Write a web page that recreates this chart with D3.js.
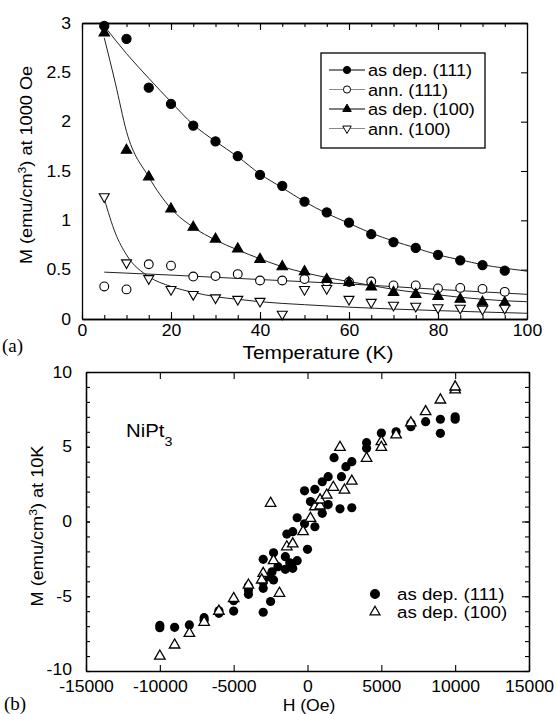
<!DOCTYPE html>
<html>
<head>
<meta charset="utf-8">
<script src="https://cdn.jsdelivr.net/npm/d3@7"></script>
<style>
body { margin: 0; background: #fff; }
svg { display: block; font-family: "Liberation Sans", Arial, sans-serif; }
</style>
</head>
<body>
<svg id="chart" width="557" height="714"></svg>
<script>
// ---- panel (a): M at 1000 Oe vs temperature ----
var temps = [5, 10, 15, 20, 25, 30, 35, 40, 45, 50, 55, 60, 65, 70, 75, 80, 85, 90, 95];
var asDep111 = [2.97, 2.84, 2.345, 2.18, 1.96, 1.80, 1.65, 1.46, 1.35, 1.19, 1.08, 0.976, 0.86, 0.78, 0.72, 0.65, 0.595, 0.547, 0.49];
var ann111 = [0.33, 0.30, 0.555, 0.54, 0.43, 0.435, 0.455, 0.39, 0.39, 0.405, 0.38, 0.375, 0.38, 0.34, 0.34, 0.31, 0.315, 0.305, 0.275];
var asDep100 = [2.90, 1.71, 1.44, 1.115, 0.93, 0.81, 0.71, 0.605, 0.53, 0.48, 0.40, 0.37, 0.325, 0.27, 0.25, 0.23, 0.20, 0.17, 0.165];
var ann100 = [1.24, 0.57, 0.41, 0.30, 0.25, 0.215, 0.20, 0.18, 0.05, 0.30, 0.31, 0.20, 0.17, 0.14, 0.13, 0.115, 0.11, 0.10, 0.11];

// fitted curves as [T, M]
var fitAsDep111 = [[5, 2.97], [10, 2.69], [15, 2.44], [20, 2.20], [25, 1.97], [30, 1.80], [35, 1.645], [40, 1.47], [45, 1.33], [50, 1.19], [55, 1.07], [60, 0.97], [65, 0.87], [70, 0.79], [75, 0.72], [80, 0.65], [85, 0.60], [90, 0.55], [95, 0.515], [100, 0.485]];
var fitAnn111 = [[5, 0.475], [20, 0.445], [40, 0.40], [60, 0.355], [80, 0.30], [100, 0.25]];
var fitAsDep100 = [[5, 2.85], [7.5, 2.39], [10, 1.90], [15, 1.44], [20, 1.12], [25, 0.93], [30, 0.80], [35, 0.70], [40, 0.61], [45, 0.53], [50, 0.47], [55, 0.42], [60, 0.38], [65, 0.34], [70, 0.30], [75, 0.27], [80, 0.245], [85, 0.22], [90, 0.20], [95, 0.185], [100, 0.175]];
var fitAnn100 = [[5, 1.22], [7.5, 0.87], [10, 0.65], [15, 0.43], [20, 0.33], [25, 0.27], [30, 0.226], [35, 0.20], [40, 0.175], [50, 0.145], [60, 0.12], [80, 0.085], [100, 0.058]];

var legendA = ["as dep. (111)", "ann. (111)", "as dep. (100)", "ann. (100)"];
var tTicks = [0, 20, 40, 60, 80, 100];
var mTicksA = [0, 0.5, 1, 1.5, 2, 2.5, 3];

// ---- panel (b): M at 10 K vs field, [H, M] ----
var loop111 = [[-10000, -6.95], [-10000, -7.1], [-9000, -7.08], [-8000, -6.92], [-7000, -6.43], [-7000, -6.6], [-6000, -5.97], [-6000, -6.14], [-5000, -5.99], [-5000, -5.3], [-4000, -4.87], [-4000, -4.58], [-4000, -4.31], [-3000, -4.47], [-3000, -4.07], [-3000, -6.07], [-3000, -2.53], [-2500, -5.35], [-2600, -3.69], [-2300, -3.91], [-2400, -3.36], [-2300, -2.09], [-2000, -3.02], [-1500, -2.35], [-1500, -3.2], [-1200, -2.76], [-1000, -3.13], [-700, -2.62], [-1400, -0.84], [-1000, -0.68], [-700, 0.25], [-200, -0.15], [0, -1.86], [500, -0.35], [-200, 2.05], [200, 1.33], [500, 2.15], [1000, 2.66], [1000, 0.55], [1400, 3.0], [1400, 1.13], [1800, 4.27], [2200, 0.85], [2300, 3.0], [2600, 3.67], [3000, 4.0], [3000, 0.92], [4000, 5.27], [4000, 4.9], [5000, 5.92], [6000, 6.0], [7000, 6.57], [7000, 6.34], [8000, 6.68], [9000, 6.84], [9000, 5.9], [10000, 7.0], [10000, 6.84]];
var loop100 = [[-10000, -9.0], [-9000, -8.26], [-8000, -7.48], [-7000, -6.74], [-6000, -6.0], [-5000, -5.15], [-4000, -4.25], [-3000, -3.47], [-3100, -3.91], [-2300, -2.62], [-1900, -4.8], [-1400, -1.69], [-1000, -1.5], [-300, -0.68], [200, 0.21], [500, 0.99], [850, 1.04], [850, 1.44], [1300, 1.77], [1750, 2.29], [2500, 2.1], [3000, 2.7], [2200, 4.96], [-2500, 1.22], [4000, 4.23], [5000, 5.34], [5000, 4.96], [6000, 5.79], [7000, 6.6], [8000, 7.35], [9000, 8.13], [10000, 8.8], [10000, 9.0]];
var legendB = ["as dep. (111)", "as dep. (100)"];
var hTicks = [-15000, -10000, -5000, 0, 5000, 10000, 15000];
var mTicksB = [-10, -5, 0, 5, 10];

var SX = 1.1; // the printed type is a little wide
var svg = d3.select("#chart");

function label(x, y, str, size, anchor) {
  return svg.append("text")
    .attr("transform", "translate(" + x + "," + y + ") scale(" + SX + ",1)")
    .attr("text-anchor", anchor || "start")
    .style("font-size", size + "px")
    .text(str);
}

function styleAxis(g, pad) {
  g.attr("font-family", null).attr("font-size", null);
  g.select(".domain").attr("stroke", "#000").attr("stroke-width", 1.3);
  g.selectAll(".tick line").attr("stroke", "#000").attr("stroke-width", 1.1);
  g.selectAll(".tick text")
    .style("font-size", "16px")
    .attr("fill", "#000")
    .attr("transform", "scale(" + SX + ",1)");
  if (pad) g.selectAll(".tick text").attr("x", -pad / SX);
}

// r: radius for circles, side length for triangles
function marker(type, r) {
  return d3.symbol().type(type).size(type === d3.symbolCircle ? Math.PI * r * r : 0.433 * r * r);
}

// ---------- panel (a) ----------
var xa = d3.scaleLinear().domain([0, 100]).range([82, 527]);
var ya = d3.scaleLinear().domain([0, 3]).range([319, 23]);
var tMinor = d3.range(0, 101, 5);

svg.append("g").attr("transform", "translate(0,319)")
  .call(d3.axisBottom(xa).tickValues(tMinor).tickSize(-4).tickSizeOuter(0).tickFormat(""))
  .call(styleAxis);
svg.append("g").attr("transform", "translate(0,319)")
  .call(d3.axisBottom(xa).tickValues(tTicks).tickSize(-7).tickSizeOuter(0).tickPadding(6).tickFormat(String))
  .call(styleAxis);
svg.append("g").attr("transform", "translate(0,23)")
  .call(d3.axisTop(xa).tickValues(tMinor).tickSize(-4).tickSizeOuter(0).tickFormat(""))
  .call(styleAxis);
svg.append("g").attr("transform", "translate(0,23)")
  .call(d3.axisTop(xa).tickValues(tTicks).tickSize(-7).tickSizeOuter(0).tickFormat(""))
  .call(styleAxis);
svg.append("g").attr("transform", "translate(82,0)")
  .call(d3.axisLeft(ya).tickValues(mTicksA).tickSize(0).tickSizeOuter(0).tickPadding(11).tickFormat(d3.format("~g")))
  .call(function(g) { styleAxis(g, 11); });
svg.append("g").attr("transform", "translate(527,0)")
  .call(d3.axisRight(ya).tickValues(mTicksA).tickSize(-6).tickSizeOuter(0).tickFormat(""))
  .call(styleAxis);

var lineA = d3.line().x(function(d) { return xa(d[0]); }).y(function(d) { return ya(d[1]); }).curve(d3.curveMonotoneX);
[fitAsDep111, fitAnn111, fitAsDep100, fitAnn100].forEach(function(f) {
  svg.append("path").attr("d", lineA(f)).attr("fill", "none").attr("stroke", "#222").attr("stroke-width", 1);
});

var seriesA = [
  { vals: asDep111, type: d3.symbolCircle, r: 4.6, fill: "#000", rot: 0 },
  { vals: ann111, type: d3.symbolCircle, r: 4.4, fill: "#fff", rot: 0 },
  { vals: asDep100, type: d3.symbolTriangle, r: 10.5, fill: "#000", rot: 0 },
  { vals: ann100, type: d3.symbolTriangle, r: 10, fill: "#fff", rot: 180 }
];
seriesA.forEach(function(s) {
  svg.append("g").selectAll("path").data(s.vals).enter().append("path")
    .attr("d", marker(s.type, s.r)())
    .attr("transform", function(d, i) { return "translate(" + xa(temps[i]) + "," + ya(d) + ") rotate(" + s.rot + ")"; })
    .attr("fill", s.fill).attr("stroke", "#000").attr("stroke-width", 1.1);
});

// legend (a)
svg.append("rect").attr("x", 321).attr("y", 53).attr("width", 164).attr("height", 95)
  .attr("fill", "#fff").attr("stroke", "#000").attr("stroke-width", 1.3);
var legRows = [70, 89.5, 109, 128.5];
legendA.forEach(function(name, i) {
  var s = seriesA[i];
  var y = legRows[i];
  svg.append("line").attr("x1", 329).attr("x2", 365).attr("y1", y).attr("y2", y)
    .attr("stroke", s.fill === "#fff" ? "#888" : "#000").attr("stroke-width", 1);
  svg.append("path").attr("d", marker(s.type, s.type === d3.symbolCircle ? 3.6 : 8.5)())
    .attr("transform", "translate(347," + y + ") rotate(" + s.rot + ")")
    .attr("fill", s.fill).attr("stroke", "#000").attr("stroke-width", 1);
  label(368, y + 6, name, 16.5);
});

// titles (a)
label(318, 359, "Temperature (K)", 19, "middle");
var ta = svg.append("text")
  .attr("transform", "translate(32,165) rotate(-90) scale(" + SX + ",1)")
  .attr("text-anchor", "middle").style("font-size", "16.5px");
ta.append("tspan").text("M (emu/cm");
ta.append("tspan").attr("dy", -6).style("font-size", "11px").text("3");
ta.append("tspan").attr("dy", 6).text(") at 1000 Oe");
svg.append("text").attr("x", 2).attr("y", 352)
  .style("font-family", "'Liberation Serif', serif").style("font-size", "19px").text("(a)");

// ---------- panel (b) ----------
var xb = d3.scaleLinear().domain([-15000, 15000]).range([86, 529]);
var yb = d3.scaleLinear().domain([-10, 10]).range([671, 372]);
var mMinor = d3.range(-10, 11, 1);

svg.append("g").attr("transform", "translate(0,671)")
  .call(d3.axisBottom(xb).tickValues(hTicks).tickSize(-6).tickSizeOuter(0).tickPadding(10).tickFormat(String))
  .call(styleAxis);
svg.append("g").attr("transform", "translate(0,372)")
  .call(d3.axisTop(xb).tickValues(hTicks).tickSize(-7).tickSizeOuter(0).tickFormat(""))
  .call(styleAxis);
svg.append("g").attr("transform", "translate(86,0)")
  .call(d3.axisLeft(yb).tickValues(mMinor).tickSize(-4).tickSizeOuter(0).tickFormat(""))
  .call(styleAxis);
svg.append("g").attr("transform", "translate(86,0)")
  .call(d3.axisLeft(yb).tickValues(mTicksB).tickSize(-4).tickSizeOuter(0).tickPadding(14).tickFormat(String))
  .call(function(g) { styleAxis(g, 14); })
  .call(function(g) {
    // lift the bottom label clear of the -15000 below it
    g.selectAll(".tick text").filter(function(d) { return d === -10; }).attr("y", -2);
  });
svg.append("g").attr("transform", "translate(529,0)")
  .call(d3.axisRight(yb).tickValues(mMinor).tickSize(-4).tickSizeOuter(0).tickFormat(""))
  .call(styleAxis);
svg.append("g").attr("transform", "translate(529,0)")
  .call(d3.axisRight(yb).tickValues(mTicksB).tickSize(-7).tickSizeOuter(0).tickFormat(""))
  .call(styleAxis);

svg.append("g").selectAll("path").data(loop111).enter().append("path")
  .attr("d", marker(d3.symbolCircle, 4.6)())
  .attr("transform", function(d) { return "translate(" + xb(d[0]) + "," + yb(d[1]) + ")"; })
  .attr("fill", "#000");
svg.append("g").selectAll("path").data(loop100).enter().append("path")
  .attr("d", marker(d3.symbolTriangle, 10.5)())
  .attr("transform", function(d) { return "translate(" + xb(d[0]) + "," + yb(d[1]) + ")"; })
  .attr("fill", "#fff").attr("stroke", "#000").attr("stroke-width", 1.3);

// legend (b)
[594, 612].forEach(function(y, i) {
  svg.append("path")
    .attr("d", i === 0 ? marker(d3.symbolCircle, 4.4)() : marker(d3.symbolTriangle, 10)())
    .attr("transform", "translate(375," + y + ")")
    .attr("fill", i === 0 ? "#000" : "#fff").attr("stroke", "#000").attr("stroke-width", 1.2);
  label(397, y + 6, legendB[i], 17);
});

var nt = svg.append("text")
  .attr("transform", "translate(126,437) scale(" + SX + ",1)")
  .style("font-size", "18.5px");
nt.append("tspan").text("NiPt");
nt.append("tspan").attr("dy", 9).style("font-size", "13px").text("3");

label(309, 711, "H (Oe)", 16, "middle");
var tb = svg.append("text")
  .attr("transform", "translate(43,526) rotate(-90) scale(" + SX + ",1)")
  .attr("text-anchor", "middle").style("font-size", "16.5px");
tb.append("tspan").text("M (emu/cm");
tb.append("tspan").attr("dy", -6).style("font-size", "11px").text("3");
tb.append("tspan").attr("dy", 6).text(") at 10K");
svg.append("text").attr("x", 4).attr("y", 710)
  .style("font-family", "'Liberation Serif', serif").style("font-size", "19px").text("(b)");
</script>
</body>
</html>
